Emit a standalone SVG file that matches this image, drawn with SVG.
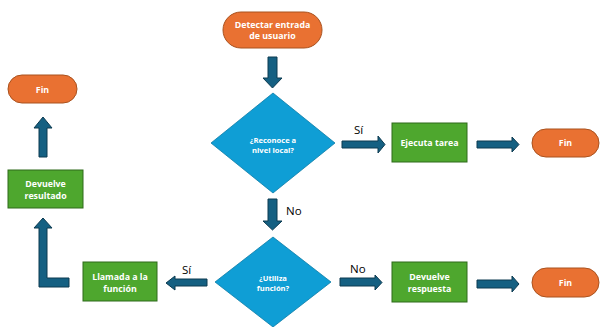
<svg xmlns="http://www.w3.org/2000/svg" width="600" height="327" viewBox="0 0 600 327">
  <style>
    .term { fill: #E97132; stroke: #A9521F; stroke-width: 1; }
    .proc { fill: #4EA72E; stroke: #2F6B1A; stroke-width: 1; }
    .dec { fill: #0F9ED5; stroke: #0B7BA6; stroke-width: 0.8; }
    .arrow { fill: #156082; stroke: #0C3A50; stroke-width: 1; stroke-linejoin: miter; }
    .nt { font-family: "Open Sans", "Liberation Sans", sans-serif; font-weight: bold; fill: #FFFFFF; text-anchor: middle; dominant-baseline: central; font-size: 8.8px; }
    .dt { font-size: 7.6px; }
    .lbl { font-family: "Open Sans", "Liberation Sans", sans-serif; font-size: 11.5px; fill: #000000; dominant-baseline: central; }
  </style>

  <rect width="600" height="327" fill="#FFFFFF"/>

  <!-- connectors: block arrows -->
  <g id="connectors">
    <!-- start -> decision 1 -->
    <polygon class="arrow" points="268,57 277,57 277,78 282,78 272.5,88 263,78 268,78"/>
    <!-- decision 1 -> Ejecuta tarea (Sí) -->
    <polygon class="arrow" points="342,141 378,141 378,136 385,144.5 378,153 378,148 342,148"/>
    <!-- Ejecuta tarea -> Fin -->
    <polygon class="arrow" points="477,141 512,141 512,137 519,144.5 512,152 512,148 477,148"/>
    <!-- decision 1 -> decision 2 (No) -->
    <polygon class="arrow" points="268,199 277,199 277,221 282,221 272.5,230 263,221 268,221"/>
    <!-- decision 2 -> Llamada a la función (Sí) -->
    <polygon class="arrow" points="207,279 175,279 175,276 166,283 175,290 175,286 207,286"/>
    <!-- decision 2 -> Devuelve respuesta (No) -->
    <polygon class="arrow" points="340,278 375,278 375,275 382,282.5 375,290 375,286 340,286"/>
    <!-- Devuelve respuesta -> Fin -->
    <polygon class="arrow" points="477,280 512,280 512,276 519,284 512,292 512,288 477,288"/>
    <!-- Llamada a la función -> Devuelve resultado (L-shaped) -->
    <polygon class="arrow" points="69,278 69,287 39,287 39,228 34,228 43,218 52,228 47,228 47,278"/>
    <!-- Devuelve resultado -> Fin -->
    <polygon class="arrow" points="39,157 47,157 47,128 52,128 43,117 34,128 39,128"/>
  </g>

  <g id="labels">
    <text class="lbl" x="354" y="129">Sí</text>
    <text class="lbl" x="286" y="210">No</text>
    <text class="lbl" x="182" y="269">Sí</text>
    <text class="lbl" x="350" y="268">No</text>
  </g>

  <g id="start">
    <rect class="term" x="223" y="12" width="99" height="36" rx="18"/>
    <text class="nt" x="272.5" y="24.5">Detectar entrada</text>
    <text class="nt" x="272.5" y="35.5">de usuario</text>
  </g>

  <g id="decision-local">
    <polygon class="dec" points="273,93 335,143 273,193 211,143"/>
    <text class="nt dt" x="273" y="139.5">¿Reconoce a</text>
    <text class="nt dt" x="273" y="149.5">nivel local?</text>
  </g>

  <g id="ejecuta-tarea">
    <rect class="proc" x="392" y="123" width="75" height="39"/>
    <text class="nt" x="429.5" y="143">Ejecuta tarea</text>
  </g>

  <g id="fin-tarea">
    <rect class="term" x="532" y="129" width="67" height="28" rx="14"/>
    <text class="nt" x="565.5" y="143">Fin</text>
  </g>

  <g id="decision-funcion">
    <polygon class="dec" points="273,237 331,282 273,327 215,282"/>
    <text class="nt dt" x="273" y="278">¿Utiliza</text>
    <text class="nt dt" x="273" y="288">función?</text>
  </g>

  <g id="devuelve-respuesta">
    <rect class="proc" x="392" y="262" width="75" height="40"/>
    <text class="nt" x="429.5" y="277">Devuelve</text>
    <text class="nt" x="429.5" y="289">respuesta</text>
  </g>

  <g id="fin-respuesta">
    <rect class="term" x="532" y="268" width="67" height="29" rx="14.5"/>
    <text class="nt" x="565.5" y="283">Fin</text>
  </g>

  <g id="llamada-funcion">
    <rect class="proc" x="83" y="262" width="74" height="39"/>
    <text class="nt" x="120" y="276.5">Llamada a la</text>
    <text class="nt" x="120" y="288.5">función</text>
  </g>

  <g id="devuelve-resultado">
    <rect class="proc" x="8" y="170" width="75" height="38"/>
    <text class="nt" x="45.5" y="184">Devuelve</text>
    <text class="nt" x="45.5" y="196">resultado</text>
  </g>

  <g id="fin-resultado">
    <rect class="term" x="8" y="75" width="69" height="28" rx="14"/>
    <text class="nt" x="42.5" y="89.5">Fin</text>
  </g>
</svg>
